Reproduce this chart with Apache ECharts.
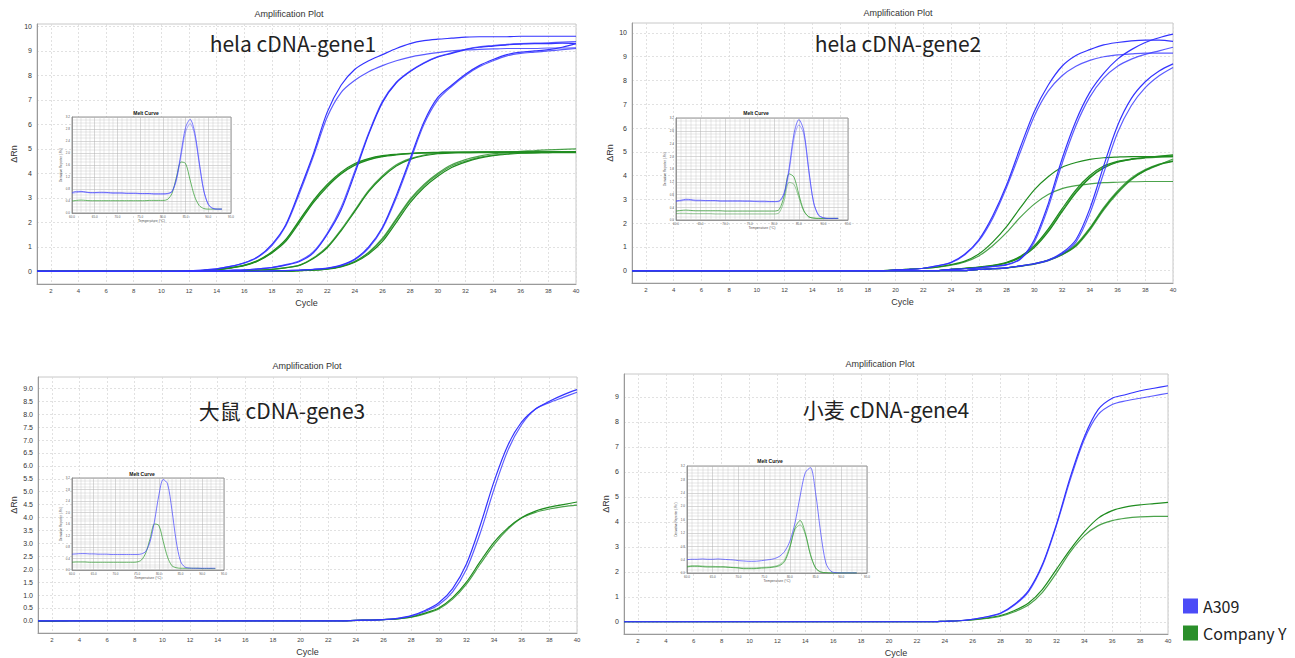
<!DOCTYPE html>
<html>
<head>
<meta charset="utf-8">
<title>Amplification Plot</title>
<script src="https://cdn.jsdelivr.net/npm/echarts@6/dist/echarts.min.js"></script>
<style>
html, body { margin: 0; padding: 0; background: #fff; }
#chart { width: 1295px; height: 658px; }
</style>
</head>
<body>
<div id="chart"></div>
<script>
// x axis of the amplification plots
var cycles = [1,2,3,4,5,6,7,8,9,10,11,12,13,14,15,16,17,18,19,20,21,22,23,24,25,26,27,28,29,30,31,32,33,34,35,36,37,38,39,40];
// x axis of the melt curves (deg C)
var temps = [60,61,62,63,64,65,66,67,68,69,70,71,72,73,74,75,76,77,78,79,80,81,82,83,84,85,86,87,88,89,90,91,92,93];

// tick labels
var yTicksInt10 = [0,1,2,3,4,5,6,7,8,9,10];
var yTicksHalf = [0,0.5,1,1.5,2,2.5,3,3.5,4,4.5,5,5.5,6,6.5,7,7.5,8,8.5,9];
var yTicksInt9 = [0,1,2,3,4,5,6,7,8,9];

// hela cDNA-gene1
var p1BlueA1 = [0,0,0,0,0,0,0,0,0,0,0, 0.02,0.05,0.1,0.2,0.35,0.6,1.1,1.9,3.3,4.8, 6.5,7.6,8.25,8.6,8.85,9.1,9.3,9.42,9.48,9.52, 9.56,9.58,9.58,9.58,9.6,9.6,9.6,9.6,9.6];
var p1BlueA2 = [0,0,0,0,0,0,0,0,0,0,0, 0.02,0.05,0.1,0.2,0.33,0.58,1.05,1.85,3.2,4.7, 6.3,7.3,7.8,8.15,8.4,8.6,8.75,8.85,8.93,9.0, 9.04,9.06,9.08,9.1,9.1,9.1,9.12,9.12,9.13];
var p1BlueB1 = [0,0,0,0,0,0,0,0,0,0,0,0,0, 0.02,0.04,0.06,0.1,0.15,0.25,0.4,0.75,1.5,2.5, 4.0,5.6,6.9,7.7,8.16,8.5,8.75,8.9,9.05,9.15, 9.2,9.25,9.28,9.3,9.3,9.32,9.3];
var p1BlueB2 = [0,0,0,0,0,0,0,0,0,0,0,0,0, 0.02,0.04,0.06,0.1,0.16,0.27,0.43,0.8,1.55,2.6, 4.1,5.65,6.95,7.72,8.18,8.52,8.77,8.92,9.07,9.17, 9.22,9.27,9.3,9.32,9.33,9.36,9.38];
var p1BlueC1 = [0,0,0,0,0,0,0,0,0,0,0,0,0,0,0,0,0, 0.02,0.03,0.05,0.08,0.13,0.25,0.5,1.0,1.8,3.1, 4.6,6.1,7.1,7.6,8.05,8.4,8.65,8.85,8.95,9.0, 9.05,9.15,9.3];
var p1BlueC2 = [0,0,0,0,0,0,0,0,0,0,0,0,0,0,0,0,0, 0.02,0.03,0.05,0.08,0.12,0.23,0.47,0.95,1.75,3.0, 4.5,6.0,7.0,7.55,8.0,8.35,8.6,8.8,8.9,8.95, 9.0,9.05,9.1];
var p1GreenA1 = [0,0,0,0,0,0,0,0,0,0,0,0, 0.03,0.07,0.15,0.25,0.45,0.8,1.3,2.1,2.9,3.55, 4.05,4.4,4.6,4.72,4.78,4.82,4.85,4.86,4.87,4.87, 4.87,4.87,4.87,4.87,4.87,4.87,4.87,4.87];
var p1GreenA2 = [0,0,0,0,0,0,0,0,0,0,0,0, 0.03,0.07,0.14,0.24,0.43,0.77,1.26,2.05,2.85,3.5, 4.0,4.36,4.57,4.7,4.77,4.81,4.84,4.85,4.86,4.86, 4.86,4.87,4.87,4.87,4.88,4.88,4.88,4.88];
var p1GreenA3 = [0,0,0,0,0,0,0,0,0,0,0,0, 0.03,0.06,0.13,0.23,0.42,0.75,1.22,2.0,2.8,3.45, 3.97,4.33,4.55,4.68,4.75,4.8,4.83,4.84,4.85,4.85, 4.85,4.85,4.85,4.85,4.85,4.85,4.85,4.85];
var p1GreenB1 = [0,0,0,0,0,0,0,0,0,0,0,0,0,0,0, 0.03,0.05,0.08,0.15,0.25,0.55,1.0,1.7,2.5,3.3, 3.9,4.35,4.6,4.75,4.82,4.85,4.87,4.88,4.88,4.88, 4.88,4.88,4.88,4.88,4.88];
var p1GreenB2 = [0,0,0,0,0,0,0,0,0,0,0,0,0,0,0, 0.03,0.05,0.08,0.14,0.24,0.52,0.96,1.65,2.45,3.25, 3.85,4.3,4.57,4.72,4.8,4.83,4.85,4.86,4.86,4.86, 4.86,4.86,4.86,4.86,4.86];
var p1GreenC1 = [0,0,0,0,0,0,0,0,0,0,0,0,0,0,0,0,0,0,0, 0.03,0.05,0.1,0.2,0.4,0.75,1.3,2.1,2.9,3.5, 3.95,4.3,4.5,4.65,4.75,4.8,4.83,4.85,4.86,4.87, 4.88];
var p1GreenC2 = [0,0,0,0,0,0,0,0,0,0,0,0,0,0,0,0,0,0,0, 0.03,0.05,0.09,0.18,0.37,0.7,1.22,2.0,2.8,3.42, 3.88,4.24,4.46,4.62,4.72,4.78,4.82,4.84,4.85,4.86, 4.86];
var p1GreenC3 = [0,0,0,0,0,0,0,0,0,0,0,0,0,0,0,0,0,0,0, 0.03,0.05,0.1,0.2,0.4,0.78,1.35,2.15,2.95,3.55, 4.0,4.35,4.56,4.7,4.8,4.86,4.9,4.93,4.96,4.98, 5.0];

// hela cDNA-gene2
var p2BlueA1 = [0,0,0,0,0,0,0,0,0,0,0,0,0,0,0,0,0,0,0, 0.03,0.05,0.1,0.2,0.35,0.7,1.3,2.3,3.6,5.2, 6.7,7.8,8.6,9.05,9.3,9.5,9.6,9.67,9.7,9.7, 9.65];
var p2BlueA2 = [0,0,0,0,0,0,0,0,0,0,0,0,0,0,0,0,0,0,0, 0.03,0.05,0.1,0.2,0.33,0.67,1.25,2.2,3.5,5.0, 6.5,7.55,8.2,8.6,8.85,9.0,9.08,9.12,9.15,9.15, 9.15];
var p2BlueB1 = [0,0,0,0,0,0,0,0,0,0,0,0,0,0,0,0,0,0,0,0,0,0,0, 0.05,0.08,0.12,0.18,0.25,0.5,1.3,2.8,4.7,6.3, 7.5,8.3,8.9,9.3,9.6,9.8,9.95];
var p2BlueB2 = [0,0,0,0,0,0,0,0,0,0,0,0,0,0,0,0,0,0,0,0,0,0,0, 0.05,0.08,0.12,0.17,0.24,0.48,1.2,2.65,4.5,6.1, 7.3,8.1,8.6,8.9,9.1,9.25,9.4];
var p2BlueC1 = [0,0,0,0,0,0,0,0,0,0,0,0,0,0,0,0,0,0,0,0,0,0,0,0,0, 0.05,0.08,0.12,0.2,0.3,0.45,0.75,1.3,2.6,4.4, 6.1,7.25,7.95,8.4,8.7];
var p2BlueC2 = [0,0,0,0,0,0,0,0,0,0,0,0,0,0,0,0,0,0,0,0,0,0,0,0,0, 0.05,0.08,0.12,0.19,0.28,0.42,0.7,1.2,2.4,4.1, 5.8,6.95,7.7,8.2,8.55];
var p2GreenA1 = [0,0,0,0,0,0,0,0,0,0,0,0,0,0,0,0,0,0,0, 0.03,0.06,0.1,0.15,0.25,0.4,0.7,1.2,1.85,2.65, 3.4,3.95,4.35,4.55,4.68,4.75,4.78,4.8,4.8,4.8, 4.8];
var p2GreenA2 = [0,0,0,0,0,0,0,0,0,0,0,0,0,0,0,0,0,0,0, 0.03,0.06,0.1,0.15,0.23,0.37,0.62,1.05,1.6,2.25, 2.8,3.2,3.45,3.58,3.65,3.7,3.72,3.74,3.75,3.75, 3.75];
var p2GreenB1 = [0,0,0,0,0,0,0,0,0,0,0,0,0,0,0,0,0,0,0,0,0,0,0, 0.05,0.1,0.15,0.22,0.35,0.6,1.05,1.75,2.6,3.4, 4.0,4.4,4.6,4.7,4.76,4.8,4.83];
var p2GreenB2 = [0,0,0,0,0,0,0,0,0,0,0,0,0,0,0,0,0,0,0,0,0,0,0, 0.05,0.1,0.14,0.21,0.33,0.57,1.0,1.68,2.52,3.32, 3.93,4.35,4.57,4.68,4.74,4.78,4.8];
var p2GreenB3 = [0,0,0,0,0,0,0,0,0,0,0,0,0,0,0,0,0,0,0,0,0,0,0, 0.05,0.09,0.14,0.2,0.32,0.55,0.97,1.63,2.47,3.27, 3.9,4.32,4.56,4.68,4.76,4.82,4.87];
var p2GreenC1 = [0,0,0,0,0,0,0,0,0,0,0,0,0,0,0,0,0,0,0,0,0,0,0,0,0, 0.05,0.08,0.12,0.2,0.3,0.45,0.7,1.1,1.8,2.65, 3.35,3.9,4.25,4.48,4.62];
var p2GreenC2 = [0,0,0,0,0,0,0,0,0,0,0,0,0,0,0,0,0,0,0,0,0,0,0,0,0, 0.05,0.08,0.12,0.19,0.28,0.43,0.68,1.05,1.75,2.6, 3.3,3.85,4.22,4.46,4.6];
var p2GreenC3 = [0,0,0,0,0,0,0,0,0,0,0,0,0,0,0,0,0,0,0,0,0,0,0,0,0, 0.05,0.08,0.11,0.18,0.27,0.42,0.66,1.02,1.7,2.55, 3.25,3.82,4.2,4.45,4.7];

// 大鼠 cDNA-gene3
var p3Blue1 = [0,0,0,0,0,0,0,0,0,0,0,0,0,0,0,0,0,0,0,0,0,0,0, 0.02,0.03,0.05,0.1,0.2,0.4,0.7,1.25,2.2,3.7, 5.4,6.8,7.7,8.2,8.5,8.75,8.95];
var p3Blue2 = [0,0,0,0,0,0,0,0,0,0,0,0,0,0,0,0,0,0,0,0,0,0,0, 0.02,0.03,0.05,0.09,0.18,0.36,0.62,1.12,2.0,3.4, 5.1,6.6,7.6,8.2,8.45,8.65,8.85];
var p3Green1 = [-0.02,-0.02,-0.01,0,0,0,0,0,0,0,0,0,0,0,0,0,0,0,0,0,0,0,0, 0.02,0.03,0.05,0.08,0.15,0.3,0.5,0.9,1.5,2.3, 3.05,3.6,4.0,4.25,4.4,4.5,4.6];
var p3Green2 = [0,0,0,0,0,0,0,0,0,0,0,0,0,0,0,0,0,0,0,0,0,0,0, 0.02,0.03,0.05,0.08,0.14,0.27,0.46,0.84,1.42,2.2, 2.95,3.55,3.98,4.2,4.33,4.42,4.48];

// 小麦 cDNA-gene4
var p4Blue1 = [0,0,0,0,0,0,0,0,0,0,0,0,0,0,0,0,0,0,0,0,0,0,0, 0.02,0.04,0.1,0.2,0.35,0.7,1.25,2.3,3.9,5.8, 7.4,8.5,8.95,9.1,9.25,9.35,9.45];
var p4Blue2 = [0,0,0,0,0,0,0,0,0,0,0,0,0,0,0,0,0,0,0,0,0,0,0, 0.02,0.04,0.1,0.19,0.33,0.67,1.2,2.25,3.85,5.7, 7.3,8.3,8.7,8.85,8.95,9.05,9.15];
var p4Green1 = [0,0,0,0,0,0,0,0,0,0,0,0,0,0,0,0,0,0,0,0,0,0,0, 0.02,0.04,0.08,0.15,0.25,0.45,0.75,1.3,2.1,2.9, 3.6,4.15,4.45,4.6,4.68,4.73,4.78];
var p4Green2 = [0,0,0,0,0,0,0,0,0,0,0,0,0,0,0,0,0,0,0,0,0,0,0, 0.02,0.04,0.07,0.13,0.22,0.4,0.67,1.18,1.95,2.8, 3.45,3.85,4.05,4.15,4.2,4.22,4.22];

// melt curves (derivative reporter)
var m1Blue1 = [0.68,0.72,0.72,0.7,0.68,0.68,0.69,0.69,0.68,0.67, 0.67,0.67,0.66,0.66,0.66,0.65,0.65,0.65,0.64,0.64, 0.64,0.65,0.72,1.15,2.0,2.85,3.12,2.7,1.7,0.75, 0.28,0.15,0.13,0.13];
var m1Blue2 = [0.66,0.68,0.7,0.69,0.67,0.67,0.67,0.67,0.67,0.66, 0.66,0.66,0.65,0.65,0.65,0.64,0.64,0.64,0.63,0.63, 0.63,0.64,0.7,1.1,1.9,2.7,2.98,2.6,1.65,0.75, 0.3,0.16,0.13,0.13];
var m1Green1 = [0.4,0.42,0.43,0.42,0.41,0.41,0.41,0.41,0.41,0.41, 0.41,0.41,0.41,0.41,0.41,0.41,0.41,0.42,0.42,0.42, 0.42,0.45,0.65,1.2,1.7,1.65,1.1,0.55,0.25,0.15, 0.13,0.13,0.13,0.13];
var m2Blue1 = [0.6,0.62,0.65,0.64,0.62,0.62,0.61,0.61,0.61,0.6, 0.6,0.6,0.6,0.6,0.6,0.6,0.59,0.59,0.59,0.58, 0.58,0.6,0.85,1.6,2.7,3.15,2.8,1.6,0.55,0.15, 0.07,0.05,0.05,0.05];
var m2Blue2 = [0.58,0.6,0.62,0.62,0.6,0.6,0.6,0.6,0.6,0.59, 0.59,0.59,0.59,0.59,0.58,0.58,0.58,0.57,0.57,0.57, 0.57,0.58,0.8,1.5,2.55,2.98,2.7,1.55,0.55,0.16, 0.07,0.05,0.05,0.05];
var m2Green1 = [0.28,0.3,0.31,0.3,0.29,0.29,0.29,0.29,0.29,0.29, 0.28,0.28,0.28,0.28,0.28,0.28,0.28,0.28,0.28,0.28, 0.28,0.33,0.75,1.45,1.35,0.8,0.3,0.1,0.06,0.05, 0.05,0.05,0.05,0.05];
var m2Green2 = [0.2,0.21,0.21,0.2,0.2,0.2,0.2,0.2,0.19,0.19, 0.19,0.19,0.19,0.19,0.19,0.19,0.19,0.19,0.19,0.19, 0.19,0.23,0.6,1.18,1.12,0.7,0.28,0.1,0.06,0.05, 0.05,0.05,0.05,0.05];
var m3Blue1 = [0.55,0.56,0.57,0.57,0.56,0.56,0.55,0.55,0.55,0.54, 0.54,0.54,0.54,0.54,0.54,0.54,0.56,0.65,1.0,1.7, 2.6,3.15,3.0,2.1,1.0,0.3,0.1,0.07,0.06,0.06, 0.06,0.06,0.06,0.06];
var m3Green1 = [0.27,0.28,0.28,0.28,0.27,0.27,0.27,0.27,0.27,0.27, 0.27,0.27,0.27,0.27,0.27,0.28,0.35,0.6,1.1,1.6, 1.55,1.0,0.45,0.15,0.08,0.06,0.06,0.06,0.06,0.06, 0.05,0.05,0.05,0.05];
var m4Blue1 = [0.4,0.41,0.41,0.42,0.41,0.41,0.42,0.41,0.4,0.39, 0.37,0.36,0.35,0.35,0.36,0.38,0.4,0.43,0.5,0.65, 0.95,1.5,2.3,3.0,3.15,2.4,1.2,0.3,0.05,0.01, 0,0,0,0];
var m4Green1 = [0.18,0.2,0.2,0.19,0.18,0.18,0.18,0.18,0.17,0.16, 0.15,0.13,0.13,0.13,0.14,0.15,0.16,0.18,0.22,0.35, 0.75,1.35,1.57,1.2,0.55,0.15,0.03,0.01,0,0, 0,0,0,0];
var m4Green2 = [0.2,0.22,0.22,0.21,0.2,0.2,0.19,0.19,0.18,0.17, 0.16,0.15,0.15,0.15,0.16,0.17,0.18,0.2,0.25,0.4, 0.8,1.3,1.44,1.15,0.55,0.15,0.03,0.01,0,0, 0,0,0,0];

var BLUE = '#3333ff';
var GREEN = '#1f8c1f';
var FONT = '"Liberation Sans", Arial, sans-serif';
var CJK = '"Noto Sans CJK SC", "Noto Sans", sans-serif';

var ampBlue = [[p1BlueA1, p1BlueA2, p1BlueB1, p1BlueB2, p1BlueC1, p1BlueC2],
               [p2BlueA1, p2BlueA2, p2BlueB1, p2BlueB2, p2BlueC1, p2BlueC2],
               [p3Blue1, p3Blue2],
               [p4Blue1, p4Blue2]];
var ampGreen = [[p1GreenA1, p1GreenA2, p1GreenA3, p1GreenB1, p1GreenB2, p1GreenC1, p1GreenC2, p1GreenC3],
                [p2GreenA1, p2GreenA2, p2GreenB1, p2GreenB2, p2GreenB3, p2GreenC1, p2GreenC2, p2GreenC3],
                [p3Green1, p3Green2],
                [p4Green1, p4Green2]];
var meltBlue = [[m1Blue1, m1Blue2], [m2Blue1, m2Blue2], [m3Blue1], [m4Blue1]];
var meltGreen = [[m1Green1], [m2Green1, m2Green2], [m3Green1], [m4Green1, m4Green2]];

// layout
var mainGrids = [
    { left: 37, top: 24, width: 539, height: 260 },
    { left: 632, top: 23, width: 541, height: 260 },
    { left: 38, top: 377, width: 539, height: 256 },
    { left: 624, top: 374, width: 544, height: 260 }
];
var meltGrids = [
    { left: 72, top: 117, width: 159, height: 96 },
    { left: 676, top: 118, width: 172, height: 102 },
    { left: 72, top: 478, width: 152, height: 92 },
    { left: 687, top: 466, width: 180, height: 107 }
];
var yRanges = [[-0.52, 10.1], [-0.52, 10.42], [-0.47, 9.44], [-0.49, 9.92]];
var yTickSets = [yTicksInt10, yTicksInt10, yTicksHalf, yTicksInt9];
var yNameGaps = [19, 17.5, 20, 13.5];

function evenCycle(i, v) { return Number(v) % 2 === 0; }

var grids = [], xAxes = [], yAxes = [], series = [];

mainGrids.forEach(function (g, k) {
    grids.push({ left: g.left, top: g.top, width: g.width, height: g.height,
        show: true, borderColor: '#c8c8c8', borderWidth: 1, backgroundColor: 'transparent' });
    xAxes.push({
        type: 'category', gridIndex: k, data: cycles, boundaryGap: false,
        axisLine: { onZero: false, lineStyle: { color: '#9a9a9a' } },
        axisTick: { show: false },
        axisLabel: { interval: evenCycle, fontSize: 6, color: '#444', margin: 4, fontFamily: FONT },
        splitLine: { show: true, interval: evenCycle, lineStyle: { type: [2, 2], color: '#d9d9d9', width: 0.8 } },
        name: 'Cycle', nameLocation: 'middle', nameGap: 14,
        nameTextStyle: { fontSize: 9, color: '#333', fontFamily: FONT }
    });
    yAxes.push({
        type: 'value', gridIndex: k, min: yRanges[k][0], max: yRanges[k][1],
        axisLine: { show: true, onZero: false, lineStyle: { color: '#9a9a9a' } },
        axisTick: { show: false, customValues: yTickSets[k] },
        axisLabel: { customValues: yTickSets[k], fontSize: 7, color: '#333', margin: 5, fontFamily: FONT,
            formatter: k === 2 ? function (v) { return v.toFixed(1); } : function (v) { return String(v); } },
        splitLine: { show: true, lineStyle: { type: [2, 2], color: '#d9d9d9', width: 0.8 } },
        name: 'ΔRn', nameLocation: 'middle', nameGap: yNameGaps[k],
        nameTextStyle: { fontSize: 9, color: '#333', fontFamily: FONT }
    });
});

meltGrids.forEach(function (g, k) {
    grids.push({ left: g.left, top: g.top, width: g.width, height: g.height, z: 3,
        show: true, borderColor: '#7a7a7a', borderWidth: 0.8, backgroundColor: '#fff' });
    xAxes.push({
        type: 'value', gridIndex: 4 + k, min: 60, max: 95, interval: 5, z: 4,
        axisLine: { onZero: false, lineStyle: { color: '#7a7a7a', width: 0.6 } },
        axisTick: { show: false },
        axisLabel: { fontSize: 3, color: '#555', margin: 2, formatter: function (v) { return v.toFixed(1); } },
        splitLine: { show: true, lineStyle: { color: '#b0b0b0', width: 0.5 } },
        minorTick: { show: false, splitNumber: 5 },
        minorSplitLine: { show: true, lineStyle: { color: '#cccccc', width: 0.45 } },
        name: 'Temperature (°C)', nameLocation: 'middle', nameGap: 6,
        nameTextStyle: { fontSize: 3.5, color: '#555' }
    });
    yAxes.push({
        type: 'value', gridIndex: 4 + k, min: 0, max: 3.2, interval: 0.4, z: 4,
        axisLine: { show: true, onZero: false, lineStyle: { color: '#7a7a7a', width: 0.6 } },
        axisTick: { show: false },
        axisLabel: { fontSize: 3, color: '#555', margin: 2, formatter: function (v) { return v.toFixed(1); } },
        splitLine: { show: true, lineStyle: { color: '#b0b0b0', width: 0.5 } },
        minorTick: { show: false, splitNumber: 4 },
        minorSplitLine: { show: true, lineStyle: { color: '#cccccc', width: 0.45 } },
        name: "Derivative Reporter (-Rn')", nameLocation: 'middle', nameGap: 9,
        nameTextStyle: { fontSize: 3, color: '#555' }
    });
});

function addAmp(k, list, name, color) {
    list.forEach(function (d, j) {
        series.push({
            name: name, type: 'line', xAxisIndex: k, yAxisIndex: k, data: d,
            smooth: 0.3, symbol: 'none', silent: true, z: 2,
            lineStyle: { width: 1.2, color: color, opacity: j % 2 ? 0.8 : 1 },
            itemStyle: { color: color }
        });
    });
}
function addMelt(k, list, name, color) {
    list.forEach(function (d, j) {
        series.push({
            name: name, type: 'line', xAxisIndex: 4 + k, yAxisIndex: 4 + k,
            data: temps.map(function (t, i) { return [t, d[i]]; }),
            smooth: 0.3, symbol: 'none', silent: true, z: 5,
            lineStyle: { width: 0.9, color: color, opacity: j % 2 ? 0.5 : 0.8 },
            itemStyle: { color: color }
        });
    });
}
for (var k = 0; k < 4; k++) {
    addAmp(k, ampGreen[k], 'Company Y', GREEN);
    addAmp(k, ampBlue[k], 'A309', BLUE);
    addMelt(k, meltGreen[k], 'Company Y', '#2e9a2e');
    addMelt(k, meltBlue[k], 'A309', '#4646ff');
}

// text labels
var plotTitles = [[289, 14], [898, 13], [307, 366], [880, 364]];
var geneNames = ['hela cDNA-gene1', 'hela cDNA-gene2', '大鼠 cDNA-gene3', '小麦 cDNA-gene4'];
var geneNamePos = [[293, 43], [898, 43], [282, 410], [886, 409]];
var meltTitlePos = [[146, 113], [756, 113], [142, 473.5], [770, 460.5]];

var graphics = [];
for (var i = 0; i < 4; i++) {
    graphics.push({ type: 'text', x: plotTitles[i][0], y: plotTitles[i][1], z: 10,
        style: { text: 'Amplification Plot', fill: '#333', fontSize: 9, fontFamily: FONT, align: 'center', verticalAlign: 'middle' } });
    graphics.push({ type: 'text', x: geneNamePos[i][0], y: geneNamePos[i][1], z: 10,
        style: { text: geneNames[i], fill: '#222', fontSize: 21, fontFamily: CJK, align: 'center', verticalAlign: 'middle' } });
    graphics.push({ type: 'text', x: meltTitlePos[i][0], y: meltTitlePos[i][1], z: 10,
        style: { text: 'Melt Curve', fill: '#111', fontSize: 5, fontWeight: 'bold', fontFamily: FONT, align: 'center', verticalAlign: 'middle' } });
}

var chart = echarts.init(document.getElementById('chart'), null, { renderer: 'svg' });
chart.setOption({
    backgroundColor: '#fff',
    animation: false,
    textStyle: { fontFamily: FONT },
    grid: grids,
    xAxis: xAxes,
    yAxis: yAxes,
    series: series,
    graphic: graphics,
    legend: {
        data: [{ name: 'A309', itemStyle: { color: '#4b4bf7' } },
               { name: 'Company Y', itemStyle: { color: '#2a8f2a' } }],
        orient: 'vertical', left: 1183, top: 598, padding: 0,
        icon: 'rect', itemWidth: 15, itemHeight: 15, itemGap: 11,
        selectedMode: false,
        textStyle: { fontSize: 16, color: '#222', fontFamily: CJK }
    }
});
</script>
</body>
</html>
